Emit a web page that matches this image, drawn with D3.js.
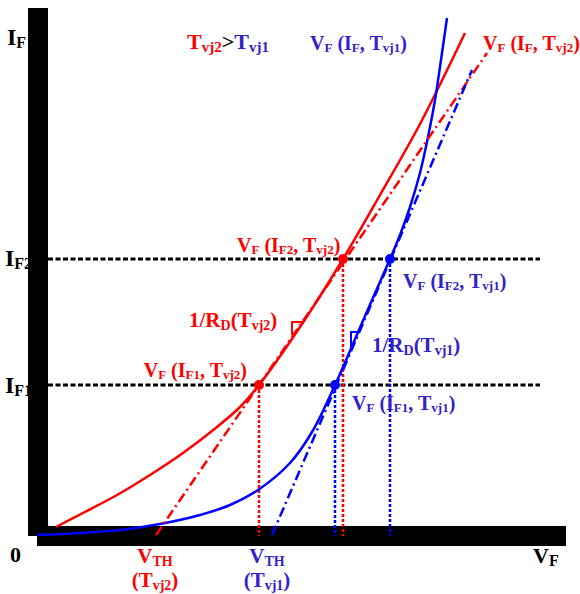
<!DOCTYPE html>
<html>
<head>
<meta charset="utf-8">
<script src="https://cdn.jsdelivr.net/npm/d3@7"></script>
<style>
  body { margin: 0; background: #fff; }
  svg { display: block; }
  text { font-family: "Liberation Serif", "DejaVu Serif", serif; font-weight: bold; }
</style>
</head>
<body>
<svg id="chart" width="580" height="594"></svg>
<script>
// forward voltage V_F (x) vs forward current I_F (y), arbitrary units
const hotCurve = [[0.19, 0.09], [0.46, 0.23], [0.80, 0.41], [1.13, 0.61], [1.46, 0.83], [1.80, 1.09],
  [2.03, 1.29], [2.22, 1.51], [2.63, 2.09], [3.06, 2.77], [3.43, 3.41], [3.83, 4.12], [4.28, 5.03]];
const coldCurve = [[0.00, 0.01], [0.43, 0.03], [0.83, 0.06], [1.23, 0.12], [1.63, 0.21], [1.93, 0.31],
  [2.21, 0.46], [2.53, 0.73], [2.75, 1.04], [2.98, 1.51], [3.25, 2.13], [3.53, 2.77], [3.63, 3.01],
  [3.73, 3.29], [3.83, 3.63], [3.91, 3.99], [3.98, 4.36], [4.04, 4.76], [4.10, 5.18]];
const currentLevels = [1.51, 2.77];          // I_F1, I_F2
const hotVF = [2.22, 3.06];                  // V_F at I_F1, I_F2 (Tvj2)
const coldVF = [2.98, 3.53];                 // V_F at I_F1, I_F2 (Tvj1)
const hotTangent = [[1.19, 0.01], [4.50, 4.83]];
const coldTangent = [[2.35, 0.01], [4.35, 4.66]];
const hotMarker = [[2.55, 2.01], [2.55, 2.14], [2.66, 2.14]];
const coldMarker = [[3.14, 1.89], [3.14, 2.04], [3.20, 2.04]];

const RED = '#ff0000', BLUE = '#0000ff', RED_TXT = '#ff0000', BLUE_TXT = '#3322cc';

const svg = d3.select('#chart');
const x = d3.scaleLinear().domain([0, 5.3]).range([37, 567]);
const y = d3.scaleLinear().domain([0, 5.2]).range([536, 16]);

// thick axis bars
svg.append('rect').attr('x', 28).attr('y', 8).attr('width', 20).attr('height', 528).attr('fill', '#000');
svg.append('rect').attr('x', 37).attr('y', 526).attr('width', 529).attr('height', 20).attr('fill', '#000');

// horizontal current levels
svg.selectAll('.hlevel').data(currentLevels).enter().append('line')
  .attr('x1', 48).attr('x2', 540)
  .attr('y1', d => y(d)).attr('y2', d => y(d))
  .attr('stroke', '#000').attr('stroke-width', 3).attr('stroke-dasharray', '5,2.5');

// vertical drops
function drops(vals, color) {
  svg.selectAll(null).data(vals).enter().append('line')
    .attr('x1', d => x(d)).attr('x2', d => x(d))
    .attr('y1', (d, i) => y(currentLevels[i])).attr('y2', y(0))
    .attr('stroke', color).attr('stroke-width', 2.5).attr('stroke-dasharray', '3,2');
}
drops(hotVF, RED);
drops(coldVF, BLUE);

const line = d3.line().x(d => x(d[0])).y(d => y(d[1]));
const smooth = d3.line().x(d => x(d[0])).y(d => y(d[1])).curve(d3.curveCatmullRom.alpha(0.5));

svg.append('path').attr('d', smooth(hotCurve)).attr('fill', 'none').attr('stroke', RED).attr('stroke-width', 2.5);
svg.append('path').attr('d', smooth(coldCurve)).attr('fill', 'none').attr('stroke', BLUE).attr('stroke-width', 2.5);

svg.append('path').attr('d', line(hotTangent)).attr('fill', 'none').attr('stroke', RED)
  .attr('stroke-width', 2.5).attr('stroke-dasharray', '10,4,2,4');
svg.append('path').attr('d', line(coldTangent)).attr('fill', 'none').attr('stroke', BLUE)
  .attr('stroke-width', 2.5).attr('stroke-dasharray', '10,4,2,4');

svg.append('path').attr('d', line(hotMarker)).attr('fill', 'none').attr('stroke', RED).attr('stroke-width', 2);
svg.append('path').attr('d', line(coldMarker)).attr('fill', 'none').attr('stroke', BLUE).attr('stroke-width', 2);

// operating points
svg.selectAll(null).data(hotVF).enter().append('circle')
  .attr('cx', d => x(d)).attr('cy', (d, i) => y(currentLevels[i])).attr('r', 5).attr('fill', RED);
svg.selectAll(null).data(coldVF).enter().append('circle')
  .attr('cx', d => x(d)).attr('cy', (d, i) => y(currentLevels[i])).attr('r', 5).attr('fill', BLUE);

// text with _{sub} parts
function rich(str, px, py, size, sub, color, anchor) {
  const t = svg.append('text').attr('x', px).attr('y', py).attr('fill', color)
    .attr('text-anchor', anchor || 'start');
  const parts = str.split(/(_\{[^}]*\})/).filter(s => s);
  const shift = size * 0.12;
  let down = false;
  parts.forEach(p => {
    if (p.startsWith('_{')) {
      t.append('tspan').attr('font-size', sub).attr('dy', down ? 0 : shift).text(p.slice(2, -1));
      down = true;
    } else {
      t.append('tspan').attr('font-size', size).attr('dy', down ? -shift : 0).text(p);
      down = false;
    }
  });
  return t;
}

rich('I_{F}', 7, 45, 24, 16, '#000');
rich('I_{F2}', 5, 266, 24, 16, '#000');
rich('I_{F1}', 5, 393, 24, 16, '#000');
rich('0', 10, 562, 22, 16, '#000');
rich('V_{F}', 533, 563, 22, 16, '#000');

const tt = rich('T_{vj2}', 187, 49, 22, 15, RED_TXT);
tt.append('tspan').attr('dy', -22 * 0.12).attr('fill', '#000').attr('font-size', 22).text('>');
tt.append('tspan').attr('fill', BLUE_TXT).attr('font-size', 22).text('T');
tt.append('tspan').attr('fill', BLUE_TXT).attr('font-size', 15).attr('dy', 22 * 0.12).text('vj1');

rich('V_{F} (I_{F}, T_{vj1})', 310, 50, 20, 13, BLUE_TXT);
rich('V_{F} (I_{F}, T_{vj2})', 483, 50, 20, 13, RED_TXT);
rich('V_{F} (I_{F2}, T_{vj2})', 237, 252, 20, 13, RED_TXT);
rich('1/R_{D}(T_{vj2})', 189, 327, 21, 14, RED_TXT);
rich('V_{F} (I_{F1}, T_{vj2})', 247, 377, 20, 13, RED_TXT, 'end');
rich('V_{F} (I_{F2}, T_{vj1})', 403, 288, 20, 13, BLUE_TXT);
rich('1/R_{D}(T_{vj1})', 372, 352, 21, 14, BLUE_TXT);
rich('V_{F} (I_{F1}, T_{vj1})', 352, 410, 20, 13, BLUE_TXT);

rich('V_{TH}', 155, 563, 21, 14, RED_TXT, 'middle');
rich('(T_{vj2})', 155, 587, 21, 14, RED_TXT, 'middle');
rich('V_{TH}', 267, 563, 21, 14, BLUE_TXT, 'middle');
rich('(T_{vj1})', 267, 587, 21, 14, BLUE_TXT, 'middle');
</script>
</body>
</html>
